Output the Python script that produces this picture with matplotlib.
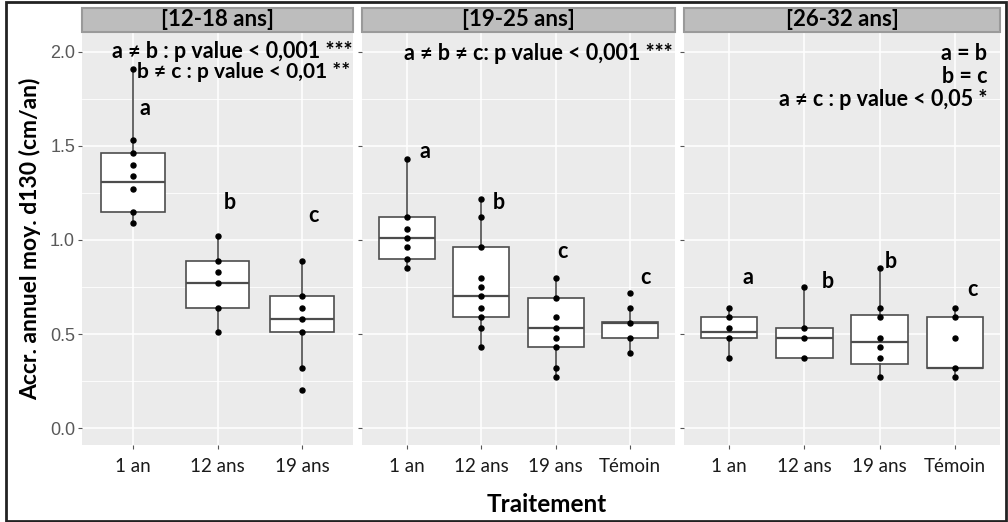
import matplotlib.pyplot as plt
from matplotlib.patches import Rectangle

plt.rcParams['font.family'] = ['Lato', 'DejaVu Sans']

# ---- data ----
panels = ['[12-18 ans]', '[19-25 ans]', '[26-32 ans]']
categories = [['1 an', '12 ans', '19 ans'],
              ['1 an', '12 ans', '19 ans', 'Témoin'],
              ['1 an', '12 ans', '19 ans', 'Témoin']]

# individual values (points)
points = [
    [[1.91, 1.53, 1.46, 1.40, 1.34, 1.27, 1.15, 1.09],
     [1.02, 0.89, 0.83, 0.77, 0.64, 0.51],
     [0.89, 0.70, 0.64, 0.58, 0.51, 0.32, 0.20]],
    [[1.43, 1.12, 1.06, 1.01, 0.96, 0.90, 0.85],
     [1.22, 1.12, 0.96, 0.80, 0.75, 0.70, 0.64, 0.59, 0.53, 0.43],
     [0.80, 0.69, 0.59, 0.53, 0.48, 0.43, 0.32, 0.27],
     [0.72, 0.64, 0.56, 0.48, 0.40]],
    [[0.64, 0.59, 0.53, 0.48, 0.37],
     [0.75, 0.53, 0.48, 0.37],
     [0.85, 0.64, 0.59, 0.48, 0.43, 0.37, 0.27],
     [0.64, 0.59, 0.48, 0.32, 0.27]],
]

# box statistics as drawn
q1 = [[1.15, 0.64, 0.51], [0.90, 0.59, 0.43, 0.48], [0.48, 0.37, 0.34, 0.32]]
med = [[1.31, 0.77, 0.58], [1.01, 0.70, 0.53, 0.56], [0.51, 0.48, 0.46, 0.32]]
q3 = [[1.46, 0.89, 0.70], [1.12, 0.96, 0.69, 0.565], [0.59, 0.53, 0.60, 0.59]]
whislo = [[1.09, 0.51, 0.32], [0.85, 0.43, 0.27, 0.40], [0.37, 0.37, 0.27, 0.27]]
whishi = [[1.91, 1.02, 0.89], [1.43, 1.22, 0.80, 0.64], [0.64, 0.75, 0.85, 0.64]]

# group letters
letters = [['a', 'b', 'c'], ['a', 'b', 'c', 'c'], ['a', 'b', 'b', 'c']]
letter_y = [[1.70, 1.20, 1.13], [1.47, 1.20, 0.94, 0.80], [0.80, 0.78, 0.885, 0.735]]
letter_dx = [[0.14, 0.15, 0.13], [0.25, 0.24, 0.09, 0.21], [0.25, 0.31, 0.15, 0.23]]

# test results written in each panel
tests = [['a ≠ b : p value < 0,001 ***', 'b ≠ c : p value < 0,01 **'],
         ['a ≠ b ≠ c: p value < 0,001 ***'],
         ['a = b', 'b = c', 'a ≠ c : p value < 0,05 *']]
tests_y = [[2.0, 1.895], [1.99], [1.99, 1.87, 1.745]]
tests_right = [[1.0, 0.99], [0.994], [0.959]*3]
tests_size = [[15.5, 15], [15.5], [15.5]*3]

yticks = [0.0, 0.5, 1.0, 1.5, 2.0]

# ---- layout (pixels of a 1008x522 figure) ----
W, H = 1008, 522
panel_x = [(82, 353), (362, 675), (684, 1000)]
top_px, bot_px = 33, 445

fig = plt.figure(figsize=(W / 100, H / 100), dpi=100)

bg = '#ebebeb'
line_col = '#4d4d4d'

for i in range(3):
    x0, x1 = panel_x[i]
    ax = fig.add_axes([x0 / W, 1 - bot_px / H, (x1 - x0) / W, (bot_px - top_px) / H])
    ax.set_facecolor(bg)
    for s in ax.spines.values():
        s.set_visible(False)
    n = len(categories[i])
    pos = list(range(1, n + 1))

    stats = []
    for j in range(n):
        stats.append(dict(q1=q1[i][j], med=med[i][j], q3=q3[i][j],
                          whislo=whislo[i][j], whishi=whishi[i][j], fliers=[]))
    ax.bxp(stats, positions=pos, widths=0.75, showcaps=False, patch_artist=True,
           boxprops=dict(facecolor='white', edgecolor=line_col, linewidth=1.2),
           medianprops=dict(color=line_col, linewidth=1.6),
           whiskerprops=dict(color=line_col, linewidth=1.2), zorder=3)

    for j in range(n):
        ax.plot([pos[j]] * len(points[i][j]), points[i][j], 'o', color='black',
                markersize=3.6, zorder=4)
        ax.text(pos[j] + letter_dx[i][j], letter_y[i][j], letters[i][j],
                fontsize=15.5, fontweight='bold', ha='center', va='center', zorder=5)

    for t, ty, tx, fs in zip(tests[i], tests_y[i], tests_right[i], tests_size[i]):
        ax.text(tx, ty, t, transform=ax.get_yaxis_transform(), fontsize=fs,
                fontweight='bold', ha='right', va='center', zorder=5)

    ax.set_xlim(0.4, n + 0.6)
    ax.set_ylim(-0.09, 2.1)
    ax.set_xticks(pos)
    ax.set_xticklabels(categories[i], fontsize=13.5, color='#1a1a1a')
    ax.set_yticks(yticks)
    ax.set_yticks([0.25, 0.75, 1.25, 1.75], minor=True)
    if i == 0:
        ax.set_yticklabels(['%.1f' % v for v in yticks], fontsize=13,
                           color='#595959', family='Liberation Sans')
        ax.set_ylabel('Accr. annuel moy. d130 (cm/an)', fontsize=16.5,
                      fontweight='bold', labelpad=6)
    else:
        ax.set_yticklabels([])
    ax.tick_params(axis='both', which='major', length=3, color='#555555', width=0.8)
    ax.tick_params(axis='x', pad=6)
    ax.tick_params(axis='y', pad=2)
    ax.tick_params(axis='y', which='minor', length=0)
    ax.grid(True, which='major', color='white', linewidth=1.1, zorder=0)
    ax.grid(True, which='minor', axis='y', color='white', linewidth=0.6, zorder=0)
    ax.set_axisbelow(True)

    # facet strip
    ax.add_patch(Rectangle((0, 1.003), 1, 0.058, transform=ax.transAxes,
                           facecolor='#bdbdbd', edgecolor='#9a9a9a', linewidth=1.5,
                           clip_on=False))
    ax.text(0.5, 1.032, panels[i], transform=ax.transAxes, ha='center', va='center',
            fontsize=16, fontweight='bold')

fig.text(547 / W, 1 - 505 / H, 'Traitement', ha='center', va='center',
         fontsize=17.5, fontweight='bold')

fig.patches.append(Rectangle((6 / W, 1 / H), 1000 / W, 519 / H, transform=fig.transFigure,
                             fill=False, edgecolor='#222222', linewidth=2))

fig.savefig('out.png', dpi=100)
